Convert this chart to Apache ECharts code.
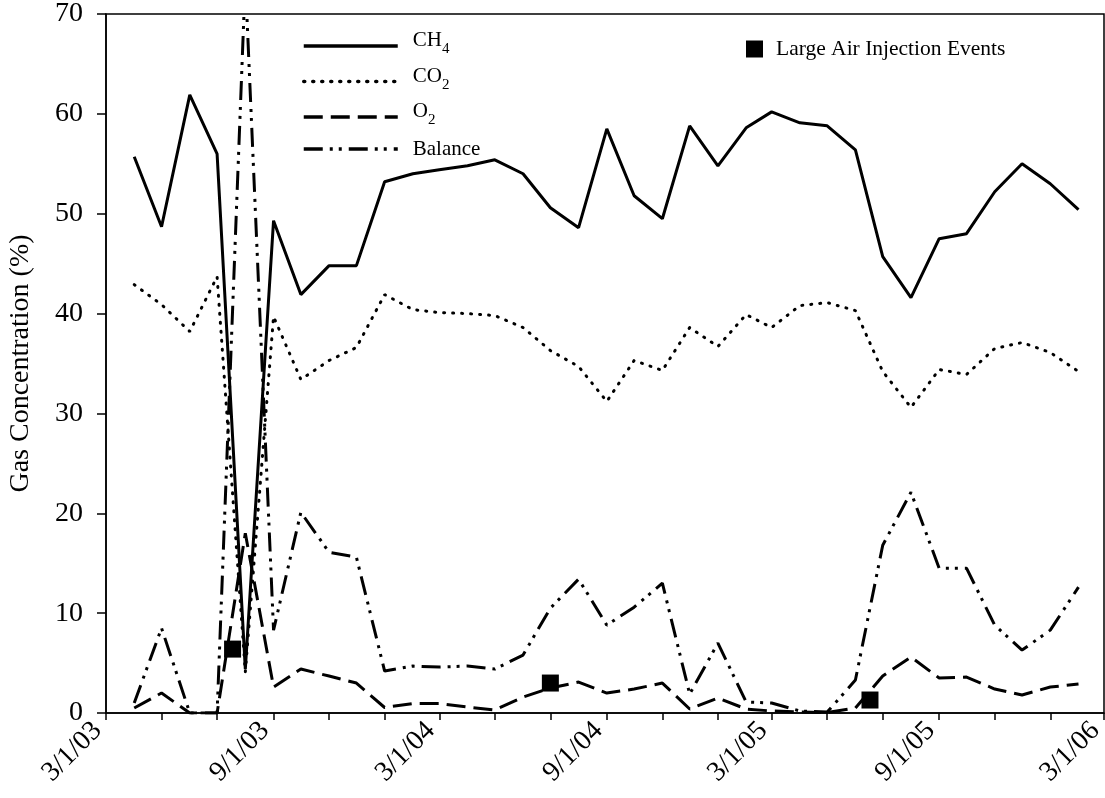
<!DOCTYPE html>
<html>
<head>
<meta charset="utf-8">
<script src="https://cdn.jsdelivr.net/npm/echarts@6/dist/echarts.min.js"></script>
<style>
  html, body { margin: 0; padding: 0; background: #fff; }
  #chart { width: 1105px; height: 798px; }
</style>
</head>
<body>
<div id="chart"></div>
<script>
// ---- data ----
const sampleDates = [
  '2003-04-01','2003-05-01','2003-06-01','2003-07-01','2003-08-01','2003-09-01',
  '2003-10-01','2003-11-01','2003-12-01','2004-01-01','2004-02-01','2004-03-01',
  '2004-04-01','2004-05-01','2004-06-01','2004-07-01','2004-08-01','2004-09-01',
  '2004-10-01','2004-11-01','2004-12-01','2005-01-01','2005-02-01','2005-03-01',
  '2005-04-01','2005-05-01','2005-06-01','2005-07-01','2005-08-01','2005-09-01',
  '2005-10-01','2005-11-01','2005-12-01','2006-01-01','2006-02-01'
];
const ch4 = [55.7, 48.7, 61.9, 56.0, 4.4, 49.3, 41.9, 44.8, 44.8, 53.2, 54.0, 54.4,
             54.8, 55.4, 54.0, 50.6, 48.6, 58.5, 51.8, 49.5, 58.8, 54.8, 58.6, 60.2,
             59.1, 58.8, 56.4, 45.7, 41.6, 47.5, 48.0, 52.2, 55.0, 53.0, 50.4];
const co2 = [42.9, 40.9, 38.2, 43.7, 4.1, 39.7, 33.4, 35.3, 36.6, 41.9, 40.4, 40.1,
             40.0, 39.8, 38.6, 36.3, 34.7, 31.2, 35.3, 34.3, 38.6, 36.7, 39.9, 38.6,
             40.8, 41.1, 40.3, 34.2, 30.6, 34.4, 33.9, 36.5, 37.1, 36.1, 34.2];
const o2 = [0.5, 2.0, 0, 0, 18.0, 2.6, 4.4, 3.7, 3.0, 0.55, 0.95, 0.95,
            0.6, 0.3, 1.6, 2.5, 3.1, 2.0, 2.4, 3.0, 0.4, 1.5, 0.4, 0.2,
            0.1, 0.05, 0.5, 3.7, 5.6, 3.5, 3.6, 2.4, 1.8, 2.6, 2.9];
const balance = [1.0, 8.5, 0, 0, 73.5, 8.3, 20.1, 16.1, 15.6, 4.2, 4.7, 4.6,
                 4.7, 4.4, 5.8, 10.5, 13.4, 8.8, 10.6, 13.0, 1.9, 7.0, 1.1, 1.0,
                 0.2, 0.1, 3.3, 16.8, 22.1, 14.5, 14.5, 8.8, 6.3, 8.3, 12.6];
const injectionDates = ['2003-07-18', '2004-07-01', '2005-06-17'];
const injectionValues = [6.4, 3.0, 1.3];

const tickDates = [
  '2003-03-01','2003-05-01','2003-07-01','2003-09-01','2003-11-01',
  '2004-01-01','2004-03-01','2004-05-01','2004-07-01','2004-09-01','2004-11-01',
  '2005-01-01','2005-03-01','2005-05-01','2005-07-01','2005-09-01','2005-11-01',
  '2006-01-01','2006-03-01'
];
const labelDates = ['2003-03-01','2003-09-01','2004-03-01','2004-09-01','2005-03-01','2005-09-01','2006-03-01'];
const tickLabels = ['3/1/03','9/1/03','3/1/04','9/1/04','3/1/05','9/1/05','3/1/06'];

const seriesNames = ['CH4', 'CO2', 'O2', 'Balance'];
const legendParts = { CH4: ['CH', '4'], CO2: ['CO', '2'], O2: ['O', '2'], Balance: ['Balance', ''] };
const eventName = 'Large Air Injection Events';

// ---- helpers ----
function toTime(s) {
  const p = s.split('-').map(Number);
  return new Date(p[0], p[1] - 1, p[2]).getTime();
}
function pairs(dates, vals) { return dates.map((d, i) => [toTime(d), vals[i]]); }
const labelTimes = labelDates.map(toTime);

const FONT = 'Liberation Serif';
const chart = echarts.init(document.getElementById('chart'), null, { renderer: 'canvas' });

const lineCommon = { type: 'line', symbol: 'none', showSymbol: false, animation: false, z: 3 };

chart.setOption({
  animation: false,
  backgroundColor: '#ffffff',
  textStyle: { fontFamily: FONT, color: '#000' },
  grid: {
    left: 106, top: 14, right: 1, bottom: 85,
    outerBoundsMode: 'none', containLabel: false,
    show: true, borderColor: '#000', borderWidth: 1.5, backgroundColor: 'transparent'
  },
  legend: [
    {
      data: seriesNames,
      orient: 'vertical',
      left: 297, top: 19,
      itemWidth: 94, itemHeight: 14, itemGap: 2.5,
      selectedMode: false,
      itemStyle: { opacity: 0 },
      lineStyle: { width: 3.5 },
      formatter: function (name) {
        const p = legendParts[name];
        if (!p[1]) return '{p|}{b|' + p[0] + '}';
        return '{p|}{n|' + p[0] + '}{s|' + p[1] + '}';
      },
      textStyle: {
        fontFamily: FONT, color: '#000',
        rich: {
          p: { width: 10 },
          n: { fontFamily: FONT, fontSize: 21, lineHeight: 22, color: '#000', padding: [6, 0, 6, 0], verticalAlign: 'bottom' },
          s: { fontFamily: FONT, fontSize: 15, lineHeight: 16, color: '#000', verticalAlign: 'bottom' },
          b: { fontFamily: FONT, fontSize: 21, lineHeight: 22, color: '#000', padding: [8, 0, 8, 0] }
        }
      }
    },
    {
      data: [eventName],
      left: 741, top: 33,
      itemWidth: 17, itemHeight: 17,
      icon: 'rect',
      selectedMode: false,
      formatter: '{p|}{n|{name}}',
      textStyle: {
        fontFamily: FONT, color: '#000',
        rich: {
          p: { width: 8 },
          n: { fontFamily: FONT, fontSize: 21.5, lineHeight: 24, color: '#000' }
        }
      }
    }
  ],
  xAxis: {
    type: 'value',
    min: toTime('2003-03-01'),
    max: toTime('2006-03-01'),
    splitLine: { show: false },
    axisLine: { show: true, onZero: false, lineStyle: { color: '#000', width: 1.5 } },
    axisTick: {
      show: true, inside: false, length: 7,
      lineStyle: { color: '#000', width: 1.5 },
      customValues: tickDates.map(toTime)
    },
    axisLabel: {
      customValues: labelTimes,
      rotate: 45,
      margin: 5,
      padding: [0, 12, 0, 0],
      fontFamily: FONT, fontSize: 28, color: '#000',
      hideOverlap: false,
      showMinLabel: true, showMaxLabel: true,
      formatter: function (v) {
        let best = 0, bd = Infinity;
        labelTimes.forEach((t, i) => { const d = Math.abs(t - v); if (d < bd) { bd = d; best = i; } });
        return tickLabels[best];
      }
    }
  },
  yAxis: {
    type: 'value',
    min: 0, max: 70, interval: 10,
    name: 'Gas Concentration (%)',
    nameLocation: 'middle',
    nameGap: 71,
    nameTextStyle: { fontFamily: FONT, fontSize: 28, color: '#000' },
    splitLine: { show: false },
    axisLine: { show: true, lineStyle: { color: '#000', width: 1.5 } },
    axisTick: { show: true, inside: false, length: 9, lineStyle: { color: '#000', width: 1.5 } },
    axisLabel: { margin: 23, fontFamily: FONT, fontSize: 28, color: '#000' }
  },
  series: [
    Object.assign({}, lineCommon, {
      name: 'CH4', data: pairs(sampleDates, ch4),
      itemStyle: { color: '#000' },
      lineStyle: { color: '#000', width: 3, type: 'solid' }
    }),
    Object.assign({}, lineCommon, {
      name: 'CO2', data: pairs(sampleDates, co2),
      itemStyle: { color: '#000' },
      lineStyle: { color: '#000', width: 3, type: [1, 8], cap: 'round' }
    }),
    Object.assign({}, lineCommon, {
      name: 'O2', data: pairs(sampleDates, o2),
      itemStyle: { color: '#000' },
      lineStyle: { color: '#000', width: 3, type: [19, 8] }
    }),
    Object.assign({}, lineCommon, {
      name: 'Balance', data: pairs(sampleDates, balance),
      itemStyle: { color: '#000' },
      lineStyle: { color: '#000', width: 3, type: [19, 7, 3, 6, 3, 7] }
    }),
    {
      type: 'scatter', name: eventName,
      data: pairs(injectionDates, injectionValues),
      symbol: 'rect', symbolSize: 17,
      itemStyle: { color: '#000', opacity: 1 },
      z: 5, animation: false
    }
  ]
});
</script>
</body>
</html>
